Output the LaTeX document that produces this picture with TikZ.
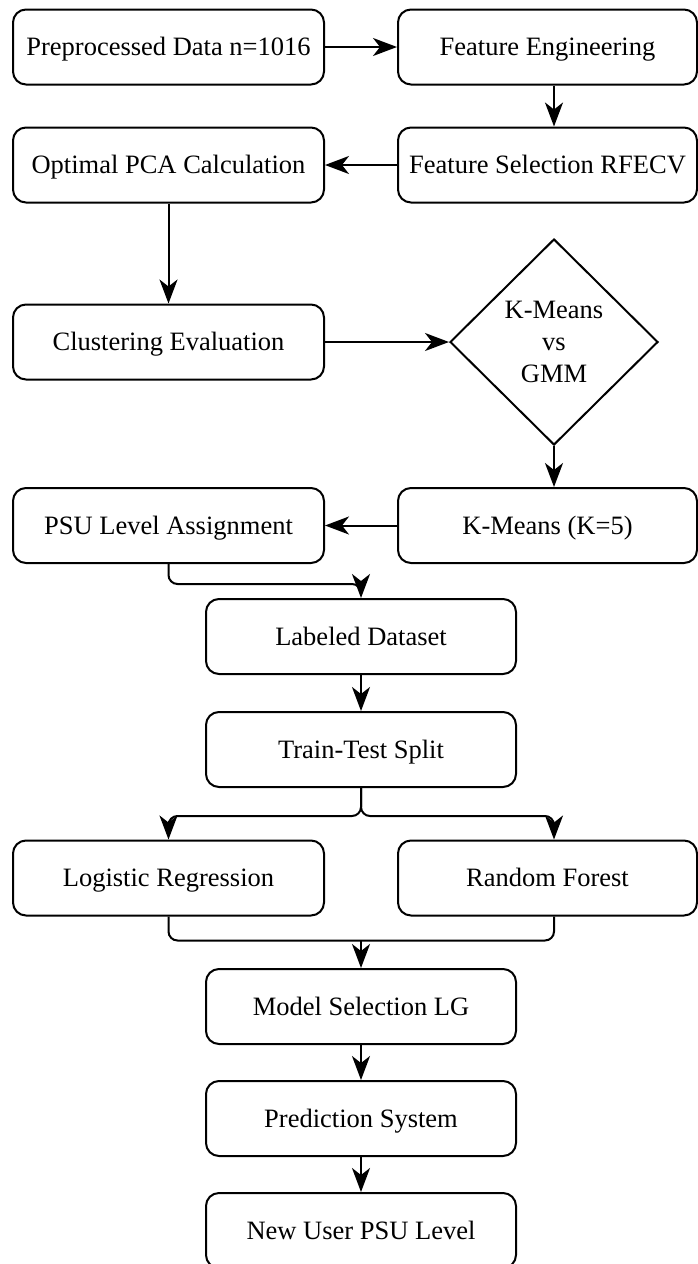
\documentclass[tikz,border=0pt]{standalone}
\usepackage{fontspec}
\setmainfont{Liberation Serif}
\usetikzlibrary{shapes.geometric,arrows.meta,calc}
\begin{document}
\begin{tikzpicture}[x=1pt,y=-1pt,
  box/.style={draw=black, line width=2pt, rounded corners=13pt, minimum height=75pt, inner sep=0pt, text height=20pt, text depth=3pt, font=\fontsize{26.5}{31}\selectfont},
  lbox/.style={box, minimum width=311pt},
  rbox/.style={box, minimum width=299pt},
  mbox/.style={box, minimum width=310pt},
  decision/.style={draw=black, line width=2pt, diamond, minimum width=208pt, minimum height=206pt, inner sep=0pt, align=center, font=\fontsize{26.5}{32}\selectfont},
  conn/.style={draw=black, line width=2pt, rounded corners=9pt},
  arr/.style={conn, -{Stealth[length=24pt,width=18pt,inset=7pt]}}
]
\useasboundingbox (0,0) rectangle (698,1264);
\fill[white] (0,0) rectangle (698,1264);

\node[lbox] (pre) at (168.5,47) {Preprocessed Data n=1016};
\node[rbox] (fe)  at (547.5,47) {Feature Engineering};
\node[rbox] (fs)  at (547.5,165) {Feature Selection RFECV};
\node[lbox] (pca) at (168.5,165) {Optimal PCA Calculation};
\node[lbox] (clu) at (168.5,342) {Clustering Evaluation};
\node[decision] (dia) at (554,342) {K-Means\\vs\\GMM};
\node[rbox] (km)  at (547.5,525.5) {K-Means (K=5)};
\node[lbox] (psu) at (168.5,525.5) {PSU Level Assignment};
\node[mbox] (lab) at (361,636.5) {Labeled Dataset};
\node[mbox] (tts) at (361,749.5) {Train-Test Split};
\node[lbox] (lr)  at (168.5,878) {Logistic Regression};
\node[rbox] (rf)  at (547.5,878) {Random Forest};
\node[mbox] (ms)  at (361,1006.5) {Model Selection LG};
\node[mbox] (ps)  at (361,1118.5) {Prediction System};
\node[mbox] (nu)  at (361,1230.5) {New User PSU Level};

\draw[arr] (pre.east) -- (fe.west);
\draw[arr] (dia.center |- fe.south) -- (dia.center |- fs.north);
\draw[arr] (fs.west) -- (pca.east);
\draw[arr] (pca.south) -- (clu.north);
\draw[arr] (clu.east) -- (dia.west);
\draw[arr] (dia.south) -- (dia.center |- km.north);
\draw[arr] (km.west) -- (psu.east);
\draw[arr] (psu.south) -- ++(0,20) -| (lab.north);
\draw[arr] (lab.south) -- (tts.north);
\path (tts.south) ++(0,28) coordinate (split);
\draw[arr] (tts.south) -- (split) -| (lr.north);
\draw[arr] (tts.south) -- (split) -| (dia.center |- rf.north);
\path (lr.south) ++(0,24) coordinate (join);
\draw[conn] (lr.south) -- (join) -| (dia.center |- rf.south);
\draw[arr] (ms.north |- join) -- (ms.north);
\draw[arr] (ms.south) -- (ps.north);
\draw[arr] (ps.south) -- (nu.north);
\end{tikzpicture}
\end{document}
